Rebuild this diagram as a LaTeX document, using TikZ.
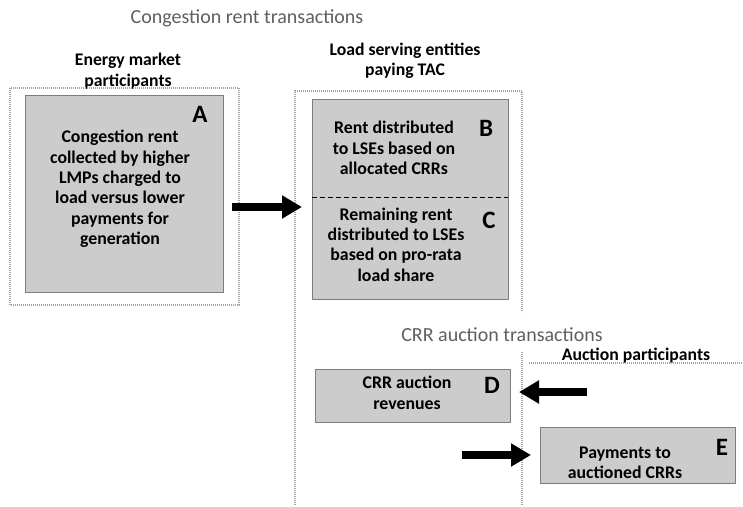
\documentclass[tikz,border=0pt]{standalone}
\usepackage{fontspec}
\setmainfont{Carlito}
\usetikzlibrary{arrows.meta}
\definecolor{boxfill}{RGB}{204,204,204}
\definecolor{boxline}{RGB}{125,125,125}
\definecolor{titlegray}{RGB}{95,95,95}
\definecolor{dotgray}{RGB}{165,165,165}
\begin{document}
\begin{tikzpicture}[x=1pt,y=-1pt,
  box/.style={draw=boxline, fill=boxfill, line width=0.8pt, inner sep=0pt},
  region/.style={draw=dotgray, line width=1.6pt, dash pattern=on 0.8pt off 1.2pt},
  boxtext/.style={font=\fontsize{17.8}{20.4}\selectfont\bfseries, align=center, inner sep=0pt},
  letter/.style={font=\fontsize{25}{25}\selectfont\bfseries, inner sep=0pt},
  heading/.style={font=\fontsize{17.7}{20.5}\selectfont\bfseries, align=center, inner sep=0pt},
  title/.style={font=\fontsize{20}{24}\selectfont, text=titlegray, inner sep=0pt},
  flow/.style={line width=8pt, -{Triangle[length=20pt,width=22pt]}},
  divider/.style={draw=black, line width=1pt, dash pattern=on 5pt off 3pt}
]
\useasboundingbox (0,0) rectangle (743,506);

% titles
\node[title] (t1) at (247,18) {Congestion rent transactions};
\node[title] (t2) at (502,335) {CRR auction transactions};

% headings
\node[heading] (hA) at (128,71) {Energy market\\participants};
\node[heading] (hB) at (405,61) {Load serving entities\\paying TAC};
\node[heading] (hE) at (636,356) {Auction participants};

% dotted regions
\draw[region] (10,88) rectangle (239,305);
\draw[region] (295,505) -- (295,91) -- (522,91) -- (522,312);
\draw[region] (522,505) -- (522,352);
\draw[region] (529,363) -- (743,363);

% box A
\node[box, minimum width=198, minimum height=197] (boxA) at (124,193.5) {};
\node[boxtext] (txtA) at (120,189) {Congestion rent\\collected by higher\\LMPs charged to\\load versus lower\\payments for\\generation};
\node[letter] (lA) at (200,114) {A};

% box B/C
\node[box, minimum width=196, minimum height=200] (boxBC) at (410,199) {};
\draw[divider] (boxBC.west |- 0,197) -- (boxBC.east |- 0,197);
\node[boxtext] (txtB) at (394,148) {Rent distributed\\to LSEs based on\\allocated CRRs};
\node[letter] (lB) at (486,128) {B};
\node[boxtext] (txtC) at (396,244.5) {Remaining rent\\distributed to LSEs\\based on pro-rata\\load share};
\node[letter] (lC) at (489,220) {C};

% box D
\node[box, minimum width=195, minimum height=53] (boxD) at (412.5,395.5) {};
\node[boxtext] (txtD) at (407,393) {CRR auction\\revenues};
\node[letter] (lD) at (492,385) {D};

% box E
\node[box, minimum width=195, minimum height=56] (boxE) at (637.5,455) {};
\node[boxtext] (txtE) at (625,463) {Payments to\\auctioned CRRs};
\node[letter] (lE) at (722,447) {E};

% arrows
\coordinate (a1s) at (232,207);
\coordinate (a1e) at (302,207);
\draw[flow] (a1s) -- (a1e);
\coordinate (a2s) at (587,392);
\coordinate (a2e) at (519,392);
\draw[flow] (a2s) -- (a2e);
\coordinate (a3s) at (462,455);
\coordinate (a3e) at (531,455);
\draw[flow] (a3s) -- (a3e);
\end{tikzpicture}
\end{document}
